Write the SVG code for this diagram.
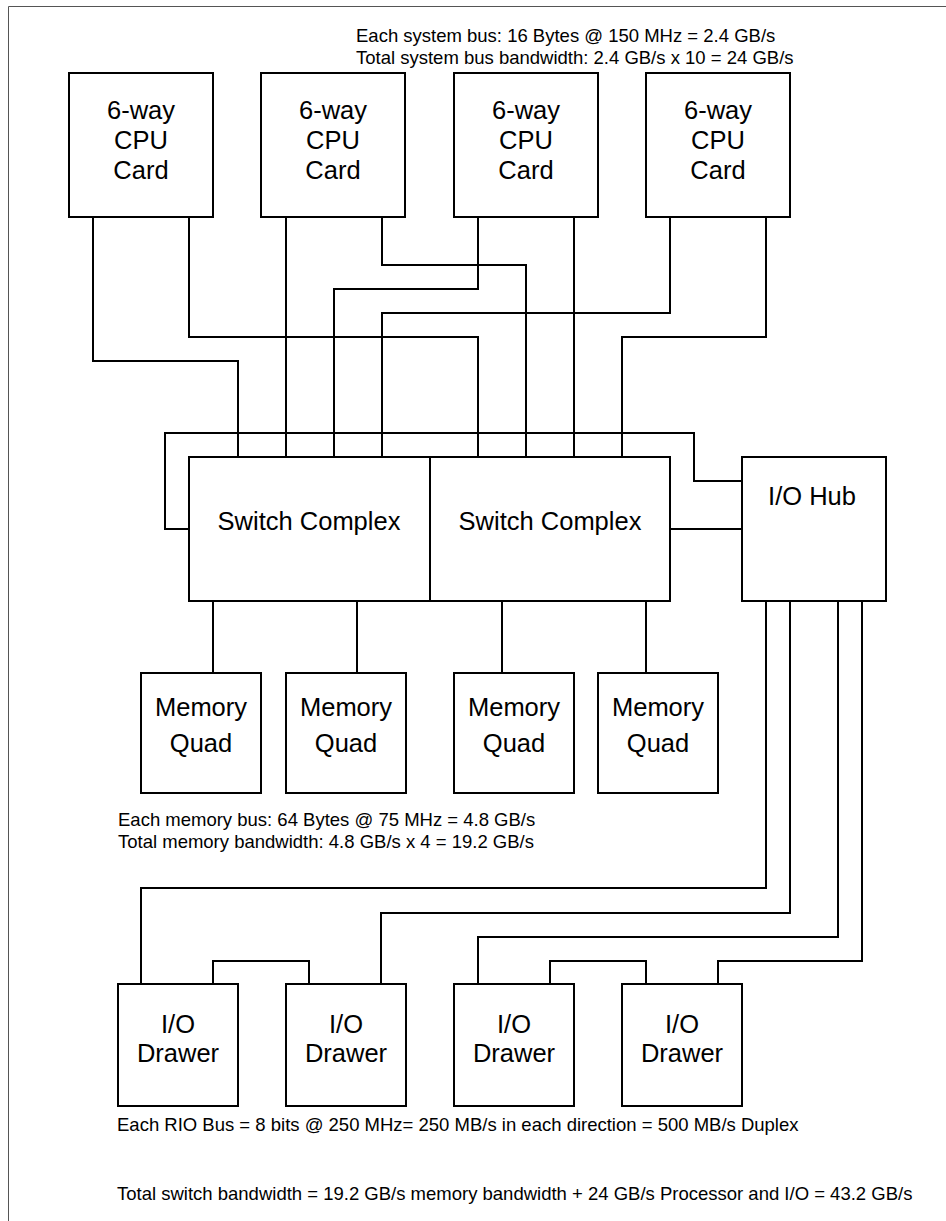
<svg xmlns="http://www.w3.org/2000/svg" width="946" height="1221" viewBox="0 0 946 1221">
<style>
.box{fill:#fff;stroke:#000;stroke-width:2}
.wire{fill:none;stroke:#000;stroke-width:2}
.lbl{font-family:"Liberation Sans",Arial,Helvetica,sans-serif;font-size:25.5px;text-anchor:middle;fill:#000}
.note{font-family:"Liberation Sans",Arial,Helvetica,sans-serif;font-size:18.5px;fill:#000}
</style>
<rect width="946" height="1221" fill="#fff"/>
<path d="M8.5,1221 V6.5 H946" fill="none" stroke="#555" stroke-width="1"/>
<g id="connectors">
<path class="wire" d="M93,217 V361 H238 V457"/>
<path class="wire" d="M189,217 V337 H478 V457"/>
<path class="wire" d="M286,217 V457"/>
<path class="wire" d="M382,217 V265 H526 V457"/>
<path class="wire" d="M478,217 V289 H334 V457"/>
<path class="wire" d="M574,217 V457"/>
<path class="wire" d="M670,217 V313 H382 V457"/>
<path class="wire" d="M766,217 V337 H622 V457"/>
<path class="wire" d="M189,529 H165 V433 H694 V481 H742"/>
<path class="wire" d="M670,529 H742"/>
<path class="wire" d="M213,601 V673"/>
<path class="wire" d="M357,601 V673"/>
<path class="wire" d="M502,601 V673"/>
<path class="wire" d="M646,601 V673"/>
<path class="wire" d="M766,601 V888 H141 V984"/>
<path class="wire" d="M790,601 V913 H381 V984"/>
<path class="wire" d="M838,601 V937 H478 V984"/>
<path class="wire" d="M862,601 V961 H718 V984"/>
<path class="wire" d="M213,984 V961 H309 V984"/>
<path class="wire" d="M550,984 V961 H646 V984"/>
</g>
<g id="cpu1"><rect class="box" x="69" y="73" width="144" height="144"/><text class="lbl"><tspan x="141" y="119">6-way</tspan><tspan x="141" y="149">CPU</tspan><tspan x="141" y="179">Card</tspan></text></g>
<g id="cpu2"><rect class="box" x="261" y="73" width="144" height="144"/><text class="lbl"><tspan x="333" y="119">6-way</tspan><tspan x="333" y="149">CPU</tspan><tspan x="333" y="179">Card</tspan></text></g>
<g id="cpu3"><rect class="box" x="454" y="73" width="144" height="144"/><text class="lbl"><tspan x="526" y="119">6-way</tspan><tspan x="526" y="149">CPU</tspan><tspan x="526" y="179">Card</tspan></text></g>
<g id="cpu4"><rect class="box" x="646" y="73" width="144" height="144"/><text class="lbl"><tspan x="718" y="119">6-way</tspan><tspan x="718" y="149">CPU</tspan><tspan x="718" y="179">Card</tspan></text></g>
<g id="switch1"><rect class="box" x="189" y="457" width="241" height="144"/><text class="lbl" x="309" y="530">Switch Complex</text></g>
<g id="switch2"><rect class="box" x="430" y="457" width="240" height="144"/><text class="lbl" x="550" y="530">Switch Complex</text></g>
<g id="iohub"><rect class="box" x="742" y="457" width="144" height="144"/><text class="lbl" x="812" y="505">I/O Hub</text></g>
<g id="mem1"><rect class="box" x="141" y="673" width="120" height="120"/><text class="lbl"><tspan x="201" y="716">Memory</tspan><tspan x="201" y="752">Quad</tspan></text></g>
<g id="mem2"><rect class="box" x="286" y="673" width="120" height="120"/><text class="lbl"><tspan x="346" y="716">Memory</tspan><tspan x="346" y="752">Quad</tspan></text></g>
<g id="mem3"><rect class="box" x="454" y="673" width="120" height="120"/><text class="lbl"><tspan x="514" y="716">Memory</tspan><tspan x="514" y="752">Quad</tspan></text></g>
<g id="mem4"><rect class="box" x="598" y="673" width="120" height="120"/><text class="lbl"><tspan x="658" y="716">Memory</tspan><tspan x="658" y="752">Quad</tspan></text></g>
<g id="drawer1"><rect class="box" x="118" y="984" width="120" height="122"/><text class="lbl"><tspan x="178" y="1033">I/O</tspan><tspan x="178" y="1062">Drawer</tspan></text></g>
<g id="drawer2"><rect class="box" x="286" y="984" width="120" height="122"/><text class="lbl"><tspan x="346" y="1033">I/O</tspan><tspan x="346" y="1062">Drawer</tspan></text></g>
<g id="drawer3"><rect class="box" x="454" y="984" width="120" height="122"/><text class="lbl"><tspan x="514" y="1033">I/O</tspan><tspan x="514" y="1062">Drawer</tspan></text></g>
<g id="drawer4"><rect class="box" x="622" y="984" width="120" height="122"/><text class="lbl"><tspan x="682" y="1033">I/O</tspan><tspan x="682" y="1062">Drawer</tspan></text></g>
<g id="notes">
<text class="note" x="356" y="42">Each system bus: 16 Bytes @ 150 MHz = 2.4 GB/s</text>
<text class="note" x="356" y="64">Total system bus bandwidth: 2.4 GB/s x 10 = 24 GB/s</text>
<text class="note" x="118" y="826">Each memory bus: 64 Bytes @ 75 MHz = 4.8 GB/s</text>
<text class="note" x="118" y="848">Total memory bandwidth: 4.8 GB/s x 4 = 19.2 GB/s</text>
<text class="note" x="117" y="1131">Each RIO Bus = 8 bits @ 250 MHz= 250 MB/s in each direction = 500 MB/s Duplex</text>
<text class="note" x="117" y="1200">Total switch bandwidth = 19.2 GB/s memory bandwidth + 24 GB/s Processor and I/O = 43.2 GB/s</text>
</g>
</svg>
